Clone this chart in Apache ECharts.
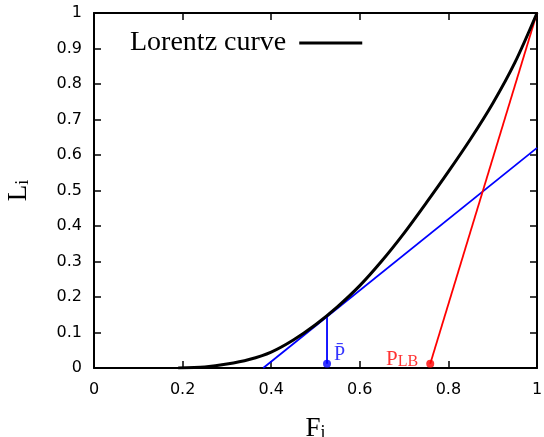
<!DOCTYPE html>
<html><head><meta charset="utf-8">
<script src="https://cdn.jsdelivr.net/npm/echarts@6/dist/echarts.min.js"></script>
<style>html,body{margin:0;padding:0;background:#fff}#c{width:544px;height:437px}</style>
</head><body><div id="c"></div>
<script>
// Lorentz curve (F, L)
const curveF = [0.19, 0.25, 0.3, 0.35, 0.4, 0.45, 0.5, 0.55, 0.6, 0.65, 0.7, 0.75, 0.8, 0.85, 0.9, 0.95, 1];
const curveL = [0, 0.003, 0.011, 0.024, 0.045, 0.079, 0.122, 0.173, 0.232, 0.302, 0.38, 0.465, 0.553, 0.645, 0.745, 0.86, 1];
// tangent line (blue)
const tangentF = [0.382, 1];
const tangentL = [0, 0.62];
// P-bar marker
const pBarF = [0.526, 0.526];
const pBarL = [0.012, 0.145];
// P_LB line (red)
const plbF = [0.759, 1];
const plbL = [0.012, 1];
const xTicks = [0, 0.2, 0.4, 0.6, 0.8, 1];
const yTicks = [0, 0.1, 0.2, 0.3, 0.4, 0.5, 0.6, 0.7, 0.8, 0.9, 1];

const zip = (a, b) => a.map((v, i) => [v, b[i]]);
const chart = echarts.init(document.getElementById('c'), null, {renderer: 'canvas'});
const tickFont = {fontFamily: 'DejaVu Sans', fontSize: 16, color: '#000'};
const axisLine = {show: true, onZero: false, lineStyle: {color: '#000', width: 2}};
const axisTick = {show: true, inside: true, length: 7, lineStyle: {color: '#000', width: 1.5}};
const fmt = v => String(Math.round(v * 10) / 10);
const nameRich = {
  a: {fontFamily: 'Liberation Serif', fontSize: 27, color: '#000', verticalAlign: 'bottom', lineHeight: 30},
  b: {fontFamily: 'Liberation Serif', fontSize: 18, color: '#000', verticalAlign: 'bottom', lineHeight: 22}
};

chart.setOption({
  animation: false,
  grid: {left: 94, right: 7, top: 13, bottom: 69, containLabel: false, outerBoundsMode: 'none'},
  legend: {
    data: [{name: 'Lorentz curve', icon: 'rect'}],
    left: 125, top: 24, align: 'right',
    itemWidth: 63, itemHeight: 3, itemGap: 10,
    textStyle: {fontFamily: 'Liberation Serif', fontSize: 28, color: '#000', padding: [0, 8, 0, 0]}
  },
  xAxis: [{
    type: 'value', min: 0, max: 1, interval: 0.2, position: 'bottom',
    axisLine, axisTick, splitLine: {show: false},
    axisLabel: Object.assign({margin: 14, formatter: fmt}, tickFont),
    name: '{a|F}{b|i}', nameLocation: 'middle', nameGap: 44,
    nameTextStyle: {rich: nameRich}
  }, {
    type: 'value', min: 0, max: 1, interval: 0.2, position: 'top',
    axisLine, axisTick, axisLabel: {show: false}, splitLine: {show: false}
  }],
  yAxis: [{
    type: 'value', min: 0, max: 1, interval: 0.1, position: 'left',
    axisLine, axisTick, splitLine: {show: false},
    axisLabel: Object.assign({margin: 12, formatter: fmt}, tickFont),
    name: '{a|L}{b|i}', nameLocation: 'middle', nameGap: 62, nameRotate: 90,
    nameTextStyle: {rich: nameRich}
  }, {
    type: 'value', min: 0, max: 1, interval: 0.1, position: 'right',
    axisLine, axisTick, axisLabel: {show: false}, splitLine: {show: false}
  }],
  series: [
    {name: 'Lorentz curve', type: 'line', data: zip(curveF, curveL), smooth: 0.3, showSymbol: false,
     lineStyle: {color: '#000', width: 3}, itemStyle: {color: '#000'}, z: 5},
    {name: 'tangent', type: 'line', data: zip(tangentF, tangentL), showSymbol: false,
     lineStyle: {color: '#0000ff', width: 1.8}, z: 4},
    {name: 'pbar', type: 'line', data: zip(pBarF, pBarL), showSymbol: false,
     lineStyle: {color: '#0000ff', width: 1.8}, z: 4},
    {name: 'pbarDot', type: 'scatter', data: [[pBarF[0], pBarL[0]]], symbolSize: 8,
     itemStyle: {color: '#0000ff'}, z: 6,
     label: {show: true, position: 'right', distance: 3, offset: [0, -9], formatter: 'P\u0304',
       fontFamily: 'Liberation Serif', fontSize: 20, color: '#0000ff'}},
    {name: 'plb', type: 'line', data: zip(plbF, plbL), showSymbol: false,
     lineStyle: {color: '#ff0000', width: 1.8}, z: 4},
    {name: 'plbDot', type: 'scatter', data: [[plbF[0], plbL[0]]], symbolSize: 8,
     itemStyle: {color: '#ff0000'}, z: 6,
     label: {show: true, position: 'left', distance: 8, offset: [0, -6], formatter: '{a|P}{b|LB}',
       rich: {
         a: {fontFamily: 'Liberation Serif', fontSize: 21, color: '#ff0000', verticalAlign: 'bottom', lineHeight: 24},
         b: {fontFamily: 'Liberation Serif', fontSize: 16, color: '#ff0000', verticalAlign: 'bottom', lineHeight: 19}
       }}}
  ]
});
</script></body></html>
